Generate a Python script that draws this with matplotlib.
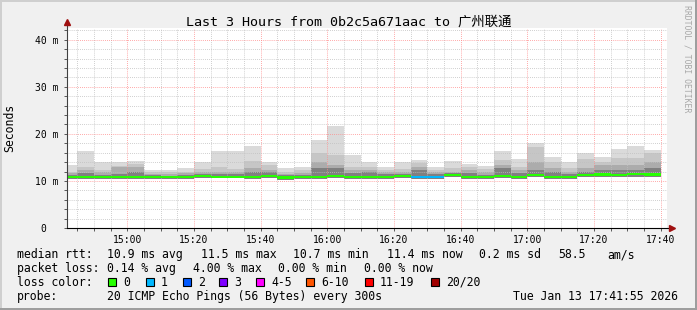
import numpy as np
import pandas as pd
import matplotlib
matplotlib.use("Agg")
import matplotlib.pyplot as plt
import matplotlib.dates as mdates
from matplotlib.ticker import MultipleLocator, FuncFormatter
from matplotlib.patches import Rectangle

W, H = 697, 310

# 5 minute steps, each bar covers [start, start + 5min)
bar_start = pd.date_range("2026-01-13 14:40", periods=36, freq="5min")
view_start = pd.Timestamp("2026-01-13 14:41:55")
view_end = pd.Timestamp("2026-01-13 17:41:55")

# smoke levels in ms
rtt_max = [13.4, 16.4, 14.1, 14.1, 14.3, 12.3, 12.3, 12.8, 14.0, 16.4, 16.4, 17.5,
           14.1, 12.7, 13.0, 18.6, 21.6, 15.5, 14.1, 13.0, 14.1, 14.5, 12.9, 14.3,
           13.6, 13.2, 16.4, 14.7, 18.0, 15.0, 14.1, 16.0, 15.0, 16.8, 17.4, 16.6]
rtt_p2 = [12.0, 13.0, 12.3, 13.1, 13.6, 11.8, 11.9, 12.0, 12.6, 13.0, 12.6, 14.3,
          13.4, 11.8, 12.3, 15.9, 15.5, 12.9, 13.0, 12.3, 12.6, 13.8, 12.3, 12.7,
          13.0, 12.6, 14.4, 13.0, 17.2, 14.1, 12.8, 14.6, 14.1, 14.8, 14.8, 15.9]
rtt_p3 = [11.6, 12.3, 11.8, 12.9, 12.9, 11.5, 11.5, 11.6, 11.8, 12.0, 12.0, 12.7,
          12.3, 11.5, 11.6, 14.1, 13.4, 12.3, 12.3, 12.0, 12.0, 13.0, 11.8, 12.0,
          12.3, 12.0, 13.4, 12.3, 14.1, 12.7, 12.0, 12.7, 13.4, 13.4, 13.4, 14.1]
rtt_p4 = [11.3, 11.6, 11.3, 11.4, 12.0, 11.2, 11.1, 11.2, 11.4, 11.5, 11.5, 11.8,
          11.8, 11.2, 11.2, 12.7, 12.7, 11.6, 11.9, 11.5, 11.5, 12.3, 11.4, 11.6,
          11.6, 11.3, 12.7, 11.6, 12.3, 12.0, 11.5, 12.0, 12.3, 12.3, 12.3, 12.7]
rtt_med = [10.8, 10.8, 10.8, 10.8, 10.8, 10.8, 10.8, 10.8, 11.1, 10.9, 10.9, 10.8,
           11.0, 10.7, 10.8, 10.8, 11.0, 10.9, 10.9, 10.9, 11.0, 10.8, 10.8, 11.3,
           10.8, 10.8, 11.0, 10.8, 11.2, 10.8, 10.8, 11.3, 11.4, 11.3, 11.5, 11.4]
rtt_min = [10.5, 10.5, 10.5, 10.4, 10.5, 10.5, 10.4, 10.5, 10.7, 10.6, 10.6, 10.4,
           10.6, 10.3, 10.5, 10.4, 10.6, 10.5, 10.5, 10.5, 10.6, 10.5, 10.5, 10.9,
           10.5, 10.5, 10.6, 10.5, 10.8, 10.5, 10.5, 10.9, 10.8, 10.9, 10.9, 10.8]
loss = [0, 0, 0, 0, 0, 0, 0, 0, 0, 0, 0, 0,
        0, 0, 0, 0, 0, 0, 0, 0, 0, 1, 1, 0,
        0, 0, 0, 0, 0, 0, 0, 0, 0, 0, 0, 0]

loss_labels = ["0", "1", "2", "3", "4-5", "6-10", "11-19", "20/20"]
loss_colors = ["#26ff00", "#00b8ff", "#0059ff", "#7e00ff", "#ff00ff", "#ff5500", "#ff0000", "#a10000"]

stats_rtt = ["10.9 ms avg", "11.5 ms max", "10.7 ms min", "11.4 ms now", "0.2 ms sd", "58.5", "am/s"]
stats_loss = ["0.14 % avg", "4.00 % max", "0.00 % min", "0.00 % now"]

mono = ["DejaVu Sans Mono", "Noto Sans CJK SC"]
plt.rcParams["font.family"] = mono

fig = plt.figure(figsize=(W / 100, H / 100), dpi=100, facecolor="#f0f0f0")
ax = fig.add_axes([67 / W, (H - 228) / H, 600 / W, 200 / H])
ax.set_facecolor("white")

x = mdates.date2num(bar_start.to_pydatetime())
step = 5 / 1440.0
mn = np.array(rtt_min)
med = np.array(rtt_med)

# smoke, light outside to dark inside
for top, col in [(rtt_max, "#dadada"), (rtt_p2, "#c6c6c6"), (rtt_p3, "#acacac"), (rtt_p4, "#808080")]:
    ax.bar(x, np.array(top) - mn, bottom=mn, width=step, align="edge", color=col, linewidth=0, zorder=2)

# median, coloured by loss
med_cols = [loss_colors[l] for l in loss]
ax.bar(x, 0.5, bottom=med - 0.25, width=step, align="edge", color=med_cols, linewidth=0, zorder=3)

ax.set_xlim(mdates.date2num(view_start), mdates.date2num(view_end))
ax.set_ylim(0, 42.5)

ax.xaxis.set_major_locator(mdates.MinuteLocator(byminute=[0, 20, 40]))
ax.xaxis.set_minor_locator(mdates.MinuteLocator(byminute=range(0, 60, 5)))
ax.xaxis.set_major_formatter(mdates.DateFormatter("%H:%M"))
ax.yaxis.set_major_locator(MultipleLocator(10))
ax.yaxis.set_minor_locator(MultipleLocator(2))
ax.yaxis.set_major_formatter(FuncFormatter(lambda v, p: "0  " if v == 0 else "%d m" % v))

ax.grid(which="minor", color="#c0c0c0", linestyle=(0, (1, 1.5)), linewidth=0.6, zorder=4)
ax.grid(which="major", color="#ff8c8c", linestyle=(0, (1, 1.5)), linewidth=0.6, zorder=5)
ax.set_axisbelow(False)

ax.tick_params(which="both", length=2, width=0.6, color="#404040", labelsize=7, pad=3)
ax.tick_params(axis="y", which="both", pad=4)

for s in ax.spines.values():
    s.set_visible(False)

# axis lines with arrows
ax.plot([0, 0], [0, 1.03], color="#404040", lw=0.8, transform=ax.transAxes, clip_on=False, zorder=6)
ax.plot([0, 1.006], [0, 0], color="black", lw=0.8, transform=ax.transAxes, clip_on=False, zorder=6)
ax.plot([0], [1.03], marker="^", ms=4, color="#a01010", transform=ax.transAxes, clip_on=False, zorder=7)
ax.plot([1.008], [0], marker=">", ms=4, color="#a01010", transform=ax.transAxes, clip_on=False, zorder=7)

def fx(px):
    return px / W

def fy(py):
    return 1 - py / H

fig.text(fx(10), fy(128), "Seconds", rotation=90, ha="center", va="center", fontsize=8.3)
fig.text(0.5, fy(22), "Last 3 Hours from 0b2c5a671aac to 广州联通", ha="center", va="center",
         fontsize=9.6, family=mono)
fig.text(fx(687.5), fy(5), "RRDTOOL / TOBI OETIKER", rotation=270, ha="center", va="top",
         fontsize=5.9, color="#a8a8a8")

fs = 8.3
# median rtt row
fig.text(fx(16.7), fy(254.7), "median rtt:", fontsize=fs, va="center")
for txt, px in zip(stats_rtt, [107.3, 200.7, 293.3, 386.7, 479, 558, 607]):
    fig.text(fx(px), fy(254.7), txt, fontsize=fs, va="center")
# packet loss row
fig.text(fx(16.7), fy(268.3), "packet loss:", fontsize=fs, va="center")
for txt, px in zip(stats_loss, [107.3, 192.7, 278.3, 364.5]):
    fig.text(fx(px), fy(268.3), txt, fontsize=fs, va="center")
# loss color row
fig.text(fx(16.7), fy(282.3), "loss color:", fontsize=fs, va="center")
for lab, col, px in zip(loss_labels, loss_colors, [108.3, 145.7, 182.7, 219.3, 256, 306, 365, 430.7]):
    fig.patches.append(Rectangle((fx(px), fy(286.3)), 8 / W, 8 / H, transform=fig.transFigure,
                                 facecolor=col, edgecolor="black", linewidth=0.8))
    fig.text(fx(px + 15), fy(282.3), lab, fontsize=fs, va="center")
# probe row
fig.text(fx(16.7), fy(296.3), "probe:", fontsize=fs, va="center")
fig.text(fx(107.3), fy(296.3), "20 ICMP Echo Pings (56 Bytes) every 300s", fontsize=fs, va="center")
fig.text(fx(513.3), fy(296.3), "Tue Jan 13 17:41:55 2026", fontsize=fs, va="center")

# 3d-ish frame
fig.patches.append(Rectangle((0, 1 - 2 / H), 1, 2 / H, transform=fig.transFigure, color="#cfcfcf", lw=0))
fig.patches.append(Rectangle((0, 0), 2 / W, 1, transform=fig.transFigure, color="#cfcfcf", lw=0))
fig.patches.append(Rectangle((0, 0), 1, 2 / H, transform=fig.transFigure, color="#9e9e9e", lw=0))
fig.patches.append(Rectangle((1 - 2 / W, 0), 2 / W, 1, transform=fig.transFigure, color="#9e9e9e", lw=0))

fig.savefig("out.png", dpi=100, facecolor=fig.get_facecolor())
